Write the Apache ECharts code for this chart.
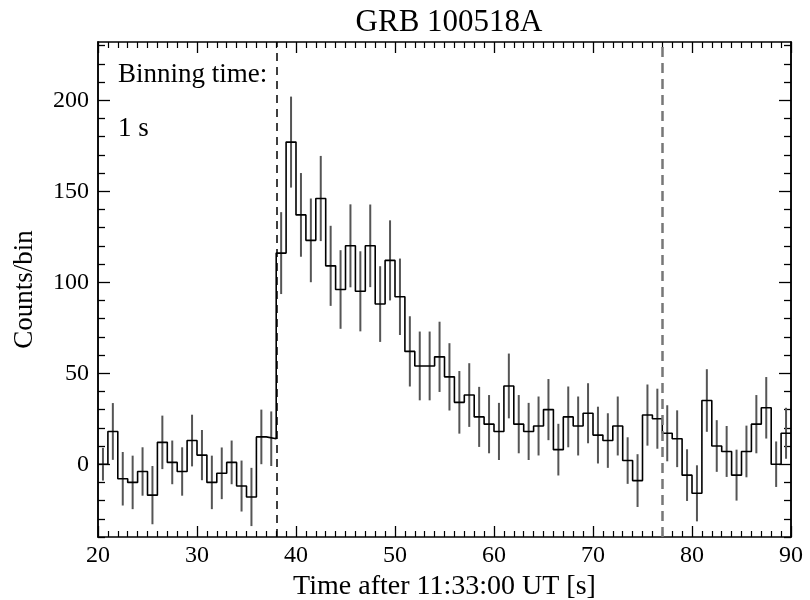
<!DOCTYPE html>
<html>
<head>
<meta charset="utf-8">
<script src="https://cdn.jsdelivr.net/npm/echarts@6/dist/echarts.min.js"></script>
<style>
  html, body { margin: 0; padding: 0; background: #fff; }
  #chart { width: 810px; height: 600px; }
</style>
</head>
<body>
<div id="chart"></div>
<script>
// light curve, 1 s bins starting at t = 20 s
var binStart = 20;
var binWidth = 1;
var counts = [
	0, 18, -8, -10, -4, -17, 12, 1, -4, 13,
	5, -10, -5, 1, -12, -18, 15, 14, 116, 177,
	137, 123, 146, 109, 96, 120, 95, 120, 88, 112,
	92, 62, 54, 54, 59, 48, 34, 38, 26, 22,
	18, 43, 22, 18, 21, 30, 8, 26, 21, 28,
	16, 13, 21, 2, -9, 27, 25, 17, 14, -6,
	-16, 35, 10, 7, -6, 7, 22, 31, 0, 17
];
var errors = [
	9, 15.6, 14.7, 14.7, 13.3, 16, 14.7, 12, 13.3, 14.2,
	13.8, 14.7, 14.2, 12, 14, 16, 15, 15, 22.5, 25,
	23, 23, 23.4, 22, 21.6, 22.8, 22, 22.7, 20.8, 22,
	21, 19.3, 18.9, 18.9, 19.3, 18.5, 17.2, 17.5, 16.5, 16,
	15.7, 17.8, 16, 15.7, 16.2, 16.8, 14.2, 16.7, 16.2, 16.5,
	15.6, 15, 16.2, 12.8, 14.5, 16.8, 16.5, 15.4, 15.6, 14.2,
	15.4, 17.2, 14.2, 14, 14, 14.2, 16, 16.9, 12.5, 14
];
// burst interval markers (dashed lines)
var burstStart = 38.05;
var burstEnd = 77.0;
var yMajor = [0, 50, 100, 150, 200];
var yMinor = [-40, -30, -20, -10, 10, 20, 30, 40, 60, 70, 80, 90, 110, 120, 130, 140, 160, 170, 180, 190, 210, 220, 230];

var FONT = 'Liberation Serif';

// step points at bin edges, error bars at bin centres
var stepData = [];
var errData = [];
for (var i = 0; i < counts.length; i++) {
	var t0 = binStart + i * binWidth;
	stepData.push([t0, counts[i]]);
	errData.push([t0 + binWidth / 2, counts[i] - errors[i], counts[i] + errors[i]]);
}
stepData.push([binStart + counts.length * binWidth, counts[counts.length - 1]]);

function yAxisDef(pos, ticks, len, showLabel) {
	return {
		type: 'value', position: pos, min: -40, max: 232,
		axisLine: { show: true, onZero: false, lineStyle: { color: '#000', width: 1.5 } },
		axisTick: { show: true, inside: true, length: len, customValues: ticks, lineStyle: { color: '#000', width: 1.3 } },
		axisLabel: {
			show: showLabel, customValues: ticks, margin: 9,
			color: '#000', fontFamily: FONT, fontSize: 24
		},
		splitLine: { show: false },
		name: (pos == 'left' && showLabel) ? 'Counts/bin' : '',
		nameLocation: 'middle', nameGap: 60, nameRotate: 90,
		nameTextStyle: { color: '#000', fontFamily: FONT, fontSize: 27 }
	};
}

function xAxisDef(pos, showLabel) {
	return {
		type: 'value', position: pos, min: 20, max: 90, interval: 10,
		axisLine: { show: true, onZero: false, lineStyle: { color: '#000', width: 1.5 } },
		axisTick: { show: true, inside: true, length: 11, lineStyle: { color: '#000', width: 1.3 } },
		minorTick: { show: true, splitNumber: 10, length: 6, lineStyle: { color: '#000', width: 1.2 } },
		axisLabel: { show: showLabel, margin: 7, color: '#000', fontFamily: FONT, fontSize: 24 },
		splitLine: { show: false },
		name: showLabel ? 'Time after 11:33:00 UT [s]' : '',
		nameLocation: 'middle', nameGap: 34,
		nameTextStyle: { color: '#000', fontFamily: FONT, fontSize: 28 }
	};
}

var chart = echarts.init(document.getElementById('chart'), null, { renderer: 'canvas' });
var option = {
	backgroundColor: '#fff',
	animation: false,
	title: {
		text: 'GRB 100518A', left: 444, textAlign: 'center', top: 2,
		textStyle: { color: '#000', fontFamily: FONT, fontSize: 31, fontWeight: 'normal' }
	},
	grid: { left: 98, right: 19, top: 42, bottom: 63, outerBoundsMode: 'none', containLabel: false },
	xAxis: [xAxisDef('bottom', true), xAxisDef('top', false)],
	yAxis: [
		yAxisDef('left', yMajor, 12, true),
		yAxisDef('left', yMinor, 7, false),
		yAxisDef('right', yMajor, 12, false),
		yAxisDef('right', yMinor, 7, false)
	],
	graphic: [
		{ type: 'text', left: 118, top: 61, style: { text: 'Binning time:', fill: '#000', font: '27px "Liberation Serif"' } },
		{ type: 'text', left: 118, top: 115, style: { text: '1 s', fill: '#000', font: '27px "Liberation Serif"' } }
	],
	series: [
		{
			// error bars
			type: 'custom',
			xAxisIndex: 0, yAxisIndex: 0,
			data: errData,
			clip: true,
			renderItem: function (params, api) {
				var lo = api.coord([api.value(0), api.value(1)]);
				var hi = api.coord([api.value(0), api.value(2)]);
				return {
					type: 'line',
					shape: { x1: lo[0], y1: lo[1], x2: hi[0], y2: hi[1] },
					style: { stroke: '#555', lineWidth: 2 }
				};
			},
			z: 2
		},
		{
			// histogram
			type: 'line',
			xAxisIndex: 0, yAxisIndex: 0,
			step: 'end',
			data: stepData,
			symbol: 'none',
			clip: true,
			lineStyle: { color: '#000', width: 1.6 },
			z: 3,
			markLine: {
				silent: true,
				symbol: 'none',
				label: { show: false },
				data: [
					{ xAxis: burstStart, lineStyle: { color: '#000', width: 1.5, type: [8, 6] } },
					{ xAxis: burstEnd, lineStyle: { color: '#777', width: 2.5, type: [10, 6] } }
				]
			}
		}
	]
};
chart.setOption(option);
</script>
</body>
</html>
